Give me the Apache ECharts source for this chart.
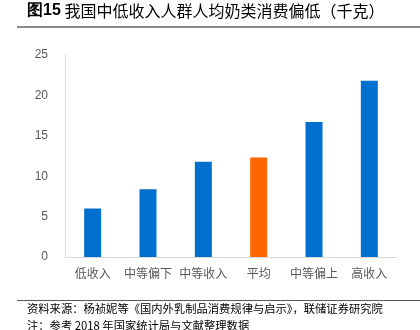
<!DOCTYPE html>
<html><head><meta charset="utf-8">
<script src="https://cdn.jsdelivr.net/npm/echarts@6/dist/echarts.min.js"></script>
<style>html,body{margin:0;padding:0;background:#fff}#c{width:420px;height:330px}</style>
</head><body><div id="c"></div>
<script>
var categories = ['低收入','中等偏下','中等收入','平均','中等偏上','高收入'];
var values = [6.0, 8.4, 11.8, 12.3, 16.7, 21.8];
var highlight = '平均';
var yTicks = [0, 5, 10, 15, 20, 25];
var titleText = '我国中低收入人群人均奶类消费偏低（千克）';
var sourceLine1 = '资料来源：杨祯妮等《国内外乳制品消费规律与启示》，联储证券研究院';
var sourceLine2 = '注：参考 2018 年国家统计局与文献整理数据';

var chart = echarts.init(document.getElementById('c'), null, {renderer:'canvas'});
var font = '"Noto Sans CJK SC", sans-serif';
chart.setOption({
  animation:false,
  grid:{left:65, right:23, top:55, bottom:73},
  xAxis:{type:'category', data:categories,
    axisLine:{lineStyle:{color:'#d9d9d9', width:1}},
    axisTick:{show:false},
    axisLabel:{color:'#595959', fontSize:12, fontFamily:font, margin:10, interval:0}},
  yAxis:{type:'value', min:yTicks[0], max:yTicks[yTicks.length-1], interval:5,
    axisLine:{show:true, lineStyle:{color:'#d9d9d9'}},
    axisTick:{show:false}, splitLine:{show:false},
    axisLabel:{color:'#595959', fontSize:12, fontFamily:'Liberation Sans, Arial, sans-serif', margin:17}},
  series:[{type:'bar', barWidth:17,
    data: values.map(function(v,i){return {value:v, itemStyle:{color: categories[i]===highlight ? '#FF6600' : '#0070CE'}};})}],
  graphic:[
    {type:'text', left:27, top:3, style:{text:'{b|图15} ' + titleText, rich:{b:{fontWeight:'bold', fontSize:16, fontFamily:'Liberation Sans, Arial, sans-serif', fill:'#000'}}, font:'16px '+font, fill:'#000'}},
    {type:'rect', shape:{x:17, y:26, width:403, height:2}, style:{fill:'#8c8c8c'}},
    {type:'rect', shape:{x:17, y:300, width:403, height:1}, style:{fill:'#595959'}},
    {type:'text', left:27, top:303, style:{text:sourceLine1, font:'11.3px '+font, fill:'#000'}},
    {type:'text', left:27, top:320, style:{text:sourceLine2, font:'11.3px '+font, fill:'#000'}}
  ]
});
</script></body></html>
